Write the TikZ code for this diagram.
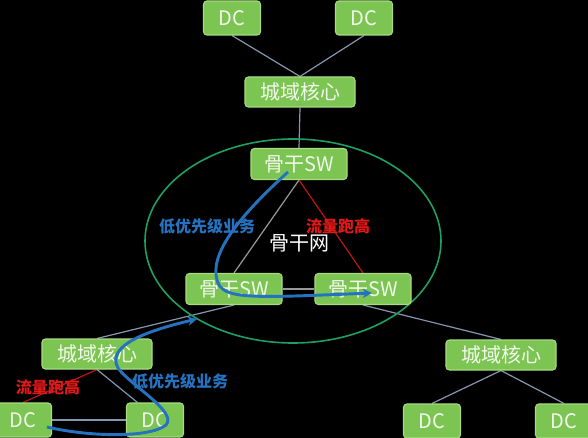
\documentclass[tikz,border=0pt]{standalone}
\usepackage{fontspec}
\setmainfont{Noto Sans CJK SC}
\newfontfamily\cjk{Noto Sans CJK SC}
\usetikzlibrary{backgrounds,arrows.meta}
\definecolor{nodefill}{HTML}{7DC552}
\definecolor{nodeedge}{HTML}{A8DC84}
\definecolor{nodetext}{HTML}{F2F8EC}
\definecolor{linkgray}{HTML}{8497B0}
\definecolor{ringgreen}{HTML}{1FA060}
\definecolor{flowblue}{HTML}{2472C0}
\definecolor{hotred}{HTML}{E01818}
\tikzset{
  box/.style={draw=nodeedge, line width=0.8pt, fill=nodefill, rounded corners=2.5pt, text=nodetext, inner sep=0pt, font=\cjk\fontsize{15}{15}\selectfont},
  dcbox/.style={box, minimum width=42.75pt, minimum height=25.5pt},
  citybox/.style={box, minimum width=82.5pt, minimum height=22.5pt},
  swbox/.style={box, minimum width=72pt, minimum height=23.25pt},
  link/.style={draw=linkgray, line width=0.9pt},
  redlink/.style={draw=hotred!85!black, line width=0.9pt},
  flow/.style={draw=flowblue, line width=2.2pt, -{Stealth[length=7pt,width=7pt]}},
  bluelabel/.style={text=flowblue, font=\cjk\bfseries\fontsize{12}{12}\selectfont},
  redlabel/.style={text=hotred, font=\cjk\bfseries\fontsize{12}{12}\selectfont}
}
\begin{document}
\begin{tikzpicture}[x=0.75pt,y=-0.75pt]
\useasboundingbox (0,0) rectangle (588,438);
% nodes
\node[dcbox] (dcT1) at (232,18) {DC};
\node[dcbox] (dcT2) at (364,18) {DC};
\node[citybox] (cityT) at (300,92) {城域核心};
\node[swbox] (swT) at (299,164) {骨干SW};
\node[swbox] (swL) at (234,289) {骨干SW};
\node[swbox] (swR) at (363,289) {骨干SW};
\node[citybox] (cityL) at (97,354) {城域核心};
\node[citybox] (cityR) at (501,355) {城域核心};
\node[dcbox] (dcL) at (23,420) {DC};
\node[dcbox] (dcM) at (155,420) {DC};
\node[dcbox] (dcR1) at (432,421) {DC};
\node[dcbox] (dcR2) at (564,421) {DC};
% texts
\node[text=white, font=\cjk\fontsize{15}{15}\selectfont] (core) at (299,243) {骨干网};
\node[bluelabel] (lblA) at (207,226) {低优先级业务};
\node[redlabel] (lblB) at (338,226) {流量跑高};
\node[redlabel] (lblC) at (48,387) {流量跑高};
\node[bluelabel] (lblD) at (180,381) {低优先级业务};
% blue flows
\coordinate (fs) at (288,172);
\coordinate (fe) at (372,293);
\draw[flow] (fs) .. controls (235,220) and (210,255) .. (217,280)
  .. controls (222,300) and (250,298) .. (fe);
\coordinate (gs) at (47,427);
\coordinate (ge) at (197,319);
\draw[flow] (gs) .. controls (90,437) and (150,438) .. (166,425)
  .. controls (178,412) and (130,385) .. (118,368)
  .. controls (105,345) and (150,330) .. (ge);
\begin{pgfonlayer}{background}
\fill[black] (0,0) rectangle (588,438);
\draw[link] (dcT1.south) -- (cityT.north);
\draw[link] (dcT2.south) -- (cityT.north);
\draw[link] (cityT.south) -- (swT.north);
\draw[draw=gray!80, line width=0.9pt] (swT.south) -- (swL.north);
\draw[redlink] (swT.south) -- (swR.north);
\draw[draw=gray!80, line width=0.9pt] (swL.east) -- (swR.west);
\draw[link] (cityL.north) -- (swL.south);
\draw[link] (swR.south) -- (cityR.north);
\draw[redlink] (cityL.south) -- (dcL.north);
\draw[link] (cityL.south) -- (dcM.135);
\draw[link] (dcL.east) -- (dcM.west);
\draw[link] (cityR.south) -- (dcR1.north);
\draw[link] (cityR.south) -- (dcR2.north);
\draw[draw=ringgreen, line width=1.2pt] (293,241) ellipse [x radius=148, y radius=102];
\end{pgfonlayer}
\end{tikzpicture}
\end{document}
